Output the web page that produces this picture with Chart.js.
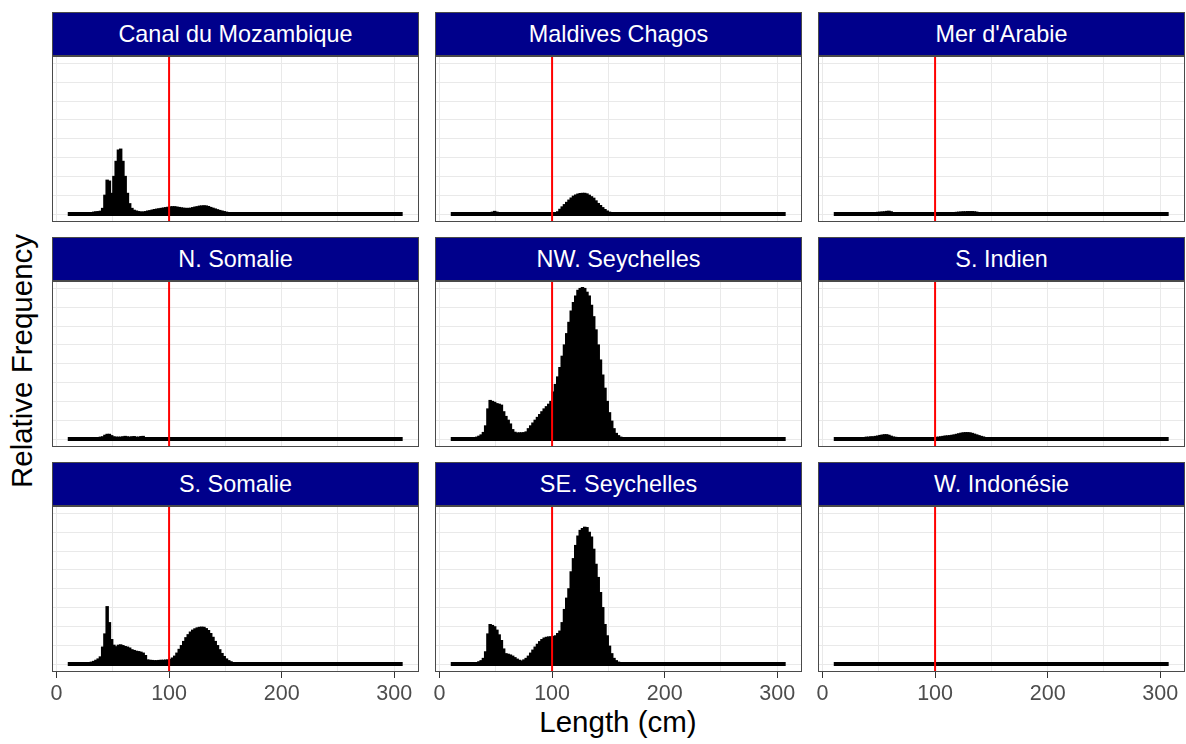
<!DOCTYPE html>
<html>
<head>
<meta charset="utf-8">
<script src="https://cdn.jsdelivr.net/npm/chart.js@4.4.1/dist/chart.umd.min.js"></script>
<style>
  body { margin: 0; background: #fff; }
  #page { position: relative; width: 1186px; height: 744px; overflow: hidden; font-family: 'Liberation Sans', Arial, sans-serif; }
  .strip { position: absolute; box-sizing: border-box; height: 44px; background: #00008b; border: 1px solid #4a4a4a;
           color: #fff; font-size: 23.4px; display: flex; align-items: center; justify-content: center; }
  canvas { position: absolute; }
  .axis-title { position: absolute; font-size: 29.5px; color: #000; white-space: nowrap; transform: translate(-50%, -50%); }
  #ytitle { transform: translate(-50%, -50%) rotate(-90deg); }
</style>
</head>
<body>
<div id="page">
  <div class="axis-title" id="ytitle" style="left:22px; top:361px;">Relative Frequency</div>
  <div class="axis-title" style="left:618px; top:722px;">Length (cm)</div>
</div>
<script>
// bin centres (cm), 2 cm wide bins
const lengthBins = [21, 23, 25, 27, 29, 31, 33, 35, 37, 39,
                    41, 43, 45, 47, 49, 51, 53, 55, 57, 59,
                    61, 63, 65, 67, 69, 71, 73, 75, 77, 79,
                    81, 83, 85, 87, 89, 91, 93, 95, 97, 99,
                    101, 103, 105, 107, 109, 111, 113, 115, 117, 119,
                    121, 123, 125, 127, 129, 131, 133, 135, 137, 139,
                    141, 143, 145, 147, 149, 151, 153, 155, 157, 159,
                    161, 163, 165, 167, 169];

const regionNames = ["Canal du Mozambique", "Maldives Chagos", "Mer d'Arabie",
                     "N. Somalie", "NW. Seychelles", "S. Indien",
                     "S. Somalie", "SE. Seychelles", "W. Indonésie"];

// relative frequency per bin (one gridline step = 1)
const canalMozambique = [0, 0, 0.02, 0.04, 0.06, 0.08, 0.1, 0.12, 0.13, 0.15,
                         0.3, 1.0, 1.8, 1.75, 1.1, 2.0, 2.8, 3.4, 3.45, 2.8,
                         2.0, 1.1, 0.55, 0.3, 0.2, 0.16, 0.13, 0.11, 0.11, 0.13,
                         0.16, 0.18, 0.21, 0.24, 0.26, 0.28, 0.3, 0.32, 0.34, 0.36,
                         0.38, 0.39, 0.39, 0.37, 0.35, 0.33, 0.31, 0.3, 0.3, 0.31,
                         0.34, 0.37, 0.39, 0.42, 0.43, 0.44, 0.43, 0.4, 0.35, 0.31,
                         0.27, 0.23, 0.19, 0.16, 0.13, 0.1, 0.07, 0.05, 0.03, 0.02,
                         0.01, 0, 0, 0, 0];
const maldivesChagos = [0, 0, 0, 0, 0, 0, 0, 0, 0, 0.01,
                        0.01, 0.02, 0.05, 0.1, 0.14, 0.1, 0.05, 0.02, 0.01, 0,
                        0, 0, 0, 0, 0, 0, 0, 0, 0, 0,
                        0, 0, 0, 0, 0, 0, 0, 0, 0.01, 0.01,
                        0.02, 0.06, 0.12, 0.25, 0.38, 0.5, 0.62, 0.74, 0.85, 0.95,
                        1.01, 1.06, 1.09, 1.1, 1.1, 1.07, 1.0, 0.92, 0.84, 0.7,
                        0.56, 0.45, 0.34, 0.24, 0.16, 0.1, 0.07, 0.04, 0.02, 0.01,
                        0, 0, 0, 0, 0];
const merArabie = [0, 0, 0, 0, 0, 0, 0, 0.01, 0.01, 0.01,
                   0.02, 0.04, 0.06, 0.08, 0.09, 0.1, 0.11, 0.12, 0.14, 0.15,
                   0.12, 0.08, 0.05, 0.03, 0.02, 0.01, 0, 0, 0, 0,
                   0, 0, 0, 0, 0, 0, 0, 0, 0, 0,
                   0, 0, 0, 0, 0, 0.02, 0.05, 0.07, 0.08, 0.09,
                   0.1, 0.11, 0.12, 0.12, 0.13, 0.13, 0.13, 0.12, 0.1, 0.08,
                   0.06, 0.04, 0.03, 0.02, 0.01, 0, 0, 0, 0, 0,
                   0, 0, 0, 0, 0];
const nSomalie = [0, 0, 0, 0, 0, 0, 0, 0.05, 0.08, 0.1,
                  0.12, 0.2, 0.25, 0.25, 0.18, 0.12, 0.1, 0.1, 0.1, 0.12,
                  0.14, 0.12, 0.1, 0.12, 0.13, 0.1, 0.1, 0.13, 0.14, 0.08,
                  0.03, 0, 0, 0, 0, 0, 0, 0, 0, 0,
                  0, 0, 0, 0, 0, 0, 0, 0, 0, 0,
                  0, 0, 0, 0, 0, 0, 0, 0, 0, 0,
                  0, 0, 0, 0, 0, 0, 0, 0, 0, 0,
                  0, 0, 0, 0, 0];
const nwSeychelles = [0, 0, 0.02, 0.03, 0.05, 0.07, 0.1, 0.15, 0.22, 0.35,
                      0.7, 1.6, 2.05, 2.0, 1.95, 1.88, 1.85, 1.8, 1.45, 1.2,
                      1.0, 0.8, 0.5, 0.36, 0.32, 0.33, 0.33, 0.34, 0.38, 0.55,
                      0.7, 0.85, 1.0, 1.15, 1.3, 1.45, 1.6, 1.72, 1.85, 2.0,
                      2.5, 2.9, 3.3, 3.8, 4.4, 5.0, 5.6, 6.2, 6.8, 7.25,
                      7.6, 7.9, 8.0, 8.05, 8.0, 7.8, 7.6, 7.1, 6.5, 5.8,
                      5.0, 4.2, 3.4, 2.7, 2.0, 1.4, 0.95, 0.55, 0.3, 0.18,
                      0.1, 0.06, 0.03, 0.01, 0];
const sIndien = [0, 0, 0, 0, 0.03, 0.05, 0.07, 0.07, 0.08, 0.1,
                 0.1, 0.12, 0.12, 0.14, 0.16, 0.19, 0.21, 0.23, 0.23, 0.2,
                 0.15, 0.11, 0.09, 0.08, 0.07, 0.07, 0.07, 0.07, 0.07, 0.06,
                 0.05, 0.05, 0.05, 0.05, 0.05, 0.06, 0.06, 0.07, 0.07, 0.08,
                 0.09, 0.1, 0.12, 0.14, 0.16, 0.17, 0.18, 0.2, 0.22, 0.25,
                 0.28, 0.31, 0.33, 0.34, 0.34, 0.33, 0.3, 0.26, 0.22, 0.18,
                 0.14, 0.11, 0.08, 0.05, 0.03, 0.02, 0.01, 0, 0, 0,
                 0, 0, 0, 0, 0];
const sSomalie = [0, 0, 0.02, 0.04, 0.07, 0.1, 0.14, 0.2, 0.27, 0.38,
                  0.9, 1.6, 3.05, 2.2, 1.3, 1.0, 0.92, 1.0, 1.02, 0.98,
                  0.93, 0.9, 0.85, 0.76, 0.72, 0.68, 0.66, 0.63, 0.58, 0.45,
                  0.22, 0.2, 0.19, 0.18, 0.18, 0.19, 0.2, 0.2, 0.21, 0.22,
                  0.25, 0.32, 0.42, 0.58, 0.78, 0.98, 1.2, 1.4, 1.56, 1.7,
                  1.8, 1.87, 1.92, 1.95, 1.96, 1.95, 1.88, 1.78, 1.62, 1.42,
                  1.2, 0.98, 0.76, 0.56, 0.4, 0.27, 0.18, 0.12, 0.08, 0.05,
                  0.03, 0.01, 0, 0, 0];
const seSeychelles = [0, 0, 0.01, 0.02, 0.04, 0.06, 0.08, 0.12, 0.18, 0.3,
                      0.65, 1.6, 2.1, 2.05, 1.98, 1.8, 1.55, 1.25, 0.8, 0.55,
                      0.52, 0.48, 0.42, 0.34, 0.26, 0.2, 0.16, 0.22, 0.3, 0.42,
                      0.58, 0.74, 0.9, 1.05, 1.19, 1.3, 1.38, 1.42, 1.44, 1.45,
                      1.46, 1.5, 1.62, 1.75, 2.2, 2.9, 3.5, 4.0, 4.9, 5.6,
                      6.3, 6.8, 7.1, 7.2, 7.27, 7.25, 7.0, 6.75, 6.1, 5.3,
                      4.6, 3.8, 3.0, 2.1, 1.5, 0.95, 0.55, 0.3, 0.18, 0.1,
                      0.06, 0.04, 0.02, 0.01, 0];
const wIndonesie = [0, 0, 0, 0, 0, 0, 0, 0, 0, 0,
                    0, 0, 0, 0, 0, 0, 0, 0, 0, 0,
                    0, 0, 0, 0, 0, 0, 0, 0, 0, 0,
                    0, 0, 0, 0, 0, 0, 0, 0, 0, 0,
                    0, 0, 0, 0, 0, 0, 0, 0, 0, 0,
                    0, 0, 0, 0.02, 0.03, 0.02, 0, 0, 0, 0,
                    0, 0, 0, 0, 0, 0, 0, 0, 0, 0,
                    0, 0, 0, 0, 0];

const regionValues = [canalMozambique, maldivesChagos, merArabie,
                      nSomalie, nwSeychelles, sIndien,
                      sSomalie, seSeychelles, wIndonesie];

const xTicks = [0, 50, 100, 150, 200, 250, 300];
const yGrid = [0, 1, 2, 3, 4, 5, 6, 7, 8];
const cutoffLength = 100;          // red reference line
const lengthRange = [10, 307.5];   // extent of the sampled length classes
const xMin = -4, xMax = 322;
const yMin = -0.42, yMax = 8.4;

Chart.defaults.font.family = "'Liberation Sans', Arial, sans-serif";
Chart.defaults.animation = false;

// draws the grey panel frame on top of everything
const panelBorder = {
    id: 'panelBorder',
    afterDraw(chart) {
        const { ctx, chartArea: a } = chart;
        ctx.save();
        ctx.strokeStyle = '#4a4a4a';
        ctx.lineWidth = 1;
        ctx.strokeRect(a.left + 0.5, a.top + 0.5, a.right - a.left - 1, a.bottom - a.top - 1);
        ctx.restore();
    }
};

const page = document.getElementById('page');
const panelLefts = [52, 435, 818];
const panelTops = [56, 281, 506];
const panelW = 367, panelH = 166, pad = 12;

regionValues.forEach(function(values, i) {
    const col = i % 3;
    const row = Math.floor(i / 3);
    const bottomRow = row === 2;

    const strip = document.createElement('div');
    strip.className = 'strip';
    strip.style.left = panelLefts[col] + 'px';
    strip.style.top = (panelTops[row] - 44) + 'px';
    strip.style.width = panelW + 'px';
    strip.textContent = regionNames[i];
    page.appendChild(strip);

    const canvas = document.createElement('canvas');
    canvas.width = panelW + 2 * pad;
    canvas.height = panelH + (bottomRow ? 38 : 0);
    canvas.style.left = (panelLefts[col] - pad) + 'px';
    canvas.style.top = panelTops[row] + 'px';
    page.appendChild(canvas);

    new Chart(canvas.getContext('2d'), {
        type: 'bar',
        data: {
            datasets: [{
                type: 'line',
                data: [{ x: cutoffLength, y: yMin }, { x: cutoffLength, y: yMax }],
                borderColor: '#ff0000',
                borderWidth: 2,
                pointRadius: 0,
                order: 0
            }, {
                type: 'line',
                data: [{ x: lengthRange[0], y: 0 }, { x: lengthRange[1], y: 0 }],
                borderColor: '#000000',
                borderWidth: 4,
                pointRadius: 0,
                order: 1
            }, {
                data: lengthBins.map((x, k) => ({ x: x, y: values[k] })),
                backgroundColor: '#000000',
                borderWidth: 0,
                barPercentage: 1,
                categoryPercentage: 1,
                inflateAmount: 0.6,
                order: 2
            }]
        },
        options: {
            responsive: false,
            devicePixelRatio: 1,
            layout: { padding: { left: pad, right: pad, top: 0, bottom: 0 } },
            plugins: { legend: { display: false }, tooltip: { enabled: false } },
            scales: {
                x: {
                    type: 'linear',
                    min: xMin,
                    max: xMax,
                    offset: false,
                    afterBuildTicks: axis => { axis.ticks = xTicks.map(v => ({ value: v })); },
                    grid: {
                        offset: false,
                        color: '#e9e9e9',
                        lineWidth: 1,
                        drawTicks: bottomRow,
                        tickLength: 6,
                        tickColor: ctx => (ctx.tick && ctx.tick.value % 100 === 0) ? '#333333' : 'rgba(0,0,0,0)'
                    },
                    border: { display: false },
                    ticks: {
                        display: bottomRow,
                        autoSkip: false,
                        maxRotation: 0,
                        padding: 3,
                        color: '#4d4d4d',
                        font: { size: 21.5, lineHeight: 26 / 21.5 },
                        callback: v => (v % 100 === 0 ? String(v) : '')
                    }
                },
                y: {
                    type: 'linear',
                    min: yMin,
                    max: yMax,
                    afterBuildTicks: axis => { axis.ticks = yGrid.map(v => ({ value: v })); },
                    grid: { color: '#e9e9e9', lineWidth: 1, drawTicks: false },
                    border: { display: false },
                    ticks: { display: false }
                }
            }
        },
        plugins: [panelBorder]
    });
});
</script>
</body>
</html>
